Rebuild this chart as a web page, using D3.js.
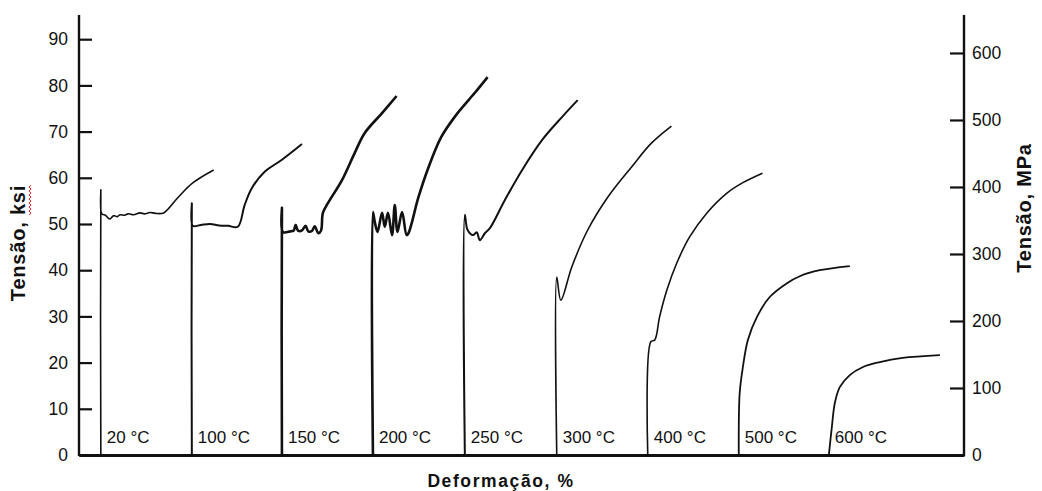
<!DOCTYPE html>
<html>
<head>
<meta charset="utf-8">
<script src="https://cdn.jsdelivr.net/npm/d3@7"></script>
<style>
  body { margin: 0; background: #fff; }
  svg { display: block; }
  text { font-family: "Liberation Sans", Arial, sans-serif; fill: #111; }
</style>
</head>
<body>
<div id="chart"></div>
<script>
// temperatures of each test and where each curve starts on the strain axis
const temps = ["20 °C", "100 °C", "150 °C", "200 °C", "250 °C", "300 °C", "400 °C", "500 °C", "600 °C"];
const offsets = [2.4, 12.4, 22.3, 32.3, 42.4, 52.5, 62.5, 72.5, 82.4];

// left / right tick labels
const ksiTicks = [0, 10, 20, 30, 40, 50, 60, 70, 80, 90];
const mpaTicks = [0, 100, 200, 300, 400, 500, 600];

// curves: [strain from start, stress ksi]
const c20 = [[0,0],[0,57.4],[0.1,52.2],[0.5,51.9],[0.8,51.3],[1.0,51.1],[1.4,51.8],[1.8,51.6],[2.1,52.0],[2.6,51.9],[3.0,52.2],[3.6,52.0],[4.3,52.4],[4.8,52.2],[5.4,52.5],[6.0,52.3],[6.9,52.4],[8.5,55.8],[10.1,58.9],[12.4,61.7]];
const c100 = [[0,0],[0,54.5],[0.1,49.6],[1.0,49.8],[2.0,50.0],[3.0,49.7],[4.0,49.6],[5.05,49.4],[5.8,54.1],[6.6,57.8],[8.0,61.3],[9.9,63.9],[12.1,67.3]];
const c150 = [[0,0],[0,53.5],[0.1,48.3],[0.9,48.4],[1.3,48.6],[1.5,49.8],[1.8,48.5],[2.2,48.6],[2.6,49.6],[2.9,48.4],[3.3,48.5],[3.6,49.5],[4.0,48.0],[4.3,48.6],[4.5,52.4],[5.05,54.5],[6.6,59.5],[8.0,65.4],[9.1,69.7],[11.0,74.0],[12.6,77.7]];
const c200 = [[0,0],[0,52.6],[0.2,50.5],[0.5,48.3],[1.0,52.4],[1.3,49.4],[1.65,52.4],[2.1,47.6],[2.4,54.1],[2.7,48.3],[3.2,52.6],[3.7,47.6],[3.9,48.0],[5.0,55.8],[6.0,61.7],[7.5,68.8],[9.3,74.0],[11.2,78.4],[12.6,81.8]];
const c250 = [[0,0],[0,52.0],[0.3,48.7],[0.9,47.6],[1.3,48.2],[1.65,46.5],[2.2,48.0],[2.75,49.1],[4.4,55.2],[6.3,61.7],[8.5,68.2],[10.7,73.2],[12.4,76.8]];
const c300 = [[0,0],[0,38.5],[0.45,33.5],[1.65,40.7],[3.4,48.7],[5.6,55.8],[8.2,62.3],[10.4,67.5],[12.6,71.2]];
const c400 = [[0,0],[0.33,24.5],[0.77,24.9],[1.3,29.9],[2.1,35.7],[3.2,41.6],[4.6,47.2],[6.5,52.4],[8.7,56.7],[10.4,58.9],[12.6,61.0]];
const c500 = [[0,0],[0.1,13.4],[0.45,19.0],[1.0,24.9],[2.0,29.9],[3.4,34.2],[5.3,37.2],[6.7,38.7],[8.9,40.0],[12.2,40.9]];
const c600 = [[0,0],[0.33,6.1],[0.66,11.3],[1.2,14.7],[2.3,17.3],[3.7,19.0],[5.6,20.1],[8.1,21.0],[12.2,21.6]];

const curves = [c20, c100, c150, c200, c250, c300, c400, c500, c600];
const widths = [1.6, 2, 2.6, 2.6, 2, 1.6, 1.6, 1.8, 1.8];

const W = 1042, H = 491;
const svg = d3.select("#chart").append("svg")
  .attr("width", W).attr("height", H);

// scales
const x = d3.scaleLinear().domain([0, 97.25]).range([79, 964]);
const y = d3.scaleLinear().domain([0, 90]).range([455, 39.2]);
const yMPa = d3.scaleLinear().domain([0, 90 * 6.895]).range([455, 39.2]);

// left axis
const left = svg.append("g").attr("transform", "translate(79,0)")
  .call(d3.axisLeft(y).tickValues(ksiTicks).tickSizeInner(-13).tickSizeOuter(0).tickPadding(11));
left.select(".domain").remove();
left.append("line").attr("x1", 0).attr("x2", 0).attr("y1", 15).attr("y2", 456)
  .attr("stroke", "#111").attr("stroke-width", 2.4);

// right axis
const right = svg.append("g").attr("transform", "translate(964,0)")
  .call(d3.axisRight(yMPa).tickValues(mpaTicks).tickSizeInner(-14).tickSizeOuter(0).tickPadding(8));
right.select(".domain").remove();
right.append("line").attr("x1", 0).attr("x2", 0).attr("y1", 15).attr("y2", 456)
  .attr("stroke", "#111").attr("stroke-width", 2.4);

[left, right].forEach(g => {
  g.selectAll(".tick line").attr("stroke", "#111").attr("stroke-width", 2.2);
  g.selectAll(".tick text").attr("font-size", 17.5).attr("fill", "#111")
    .attr("font-family", "'Liberation Sans', Arial, sans-serif");
});

// bottom axis (no ticks)
const bottom = svg.append("g").attr("transform", "translate(0,455)")
  .call(d3.axisBottom(x).ticks(0).tickSizeOuter(0));
bottom.select(".domain").attr("stroke", "#111").attr("stroke-width", 3);

// curves
const line = d3.line()
  .curve(d3.curveCatmullRom.alpha(0.5));

curves.forEach((c, i) => {
  svg.append("path")
    .datum(c)
    .attr("fill", "none")
    .attr("stroke", "#111")
    .attr("stroke-width", widths[i])
    .attr("stroke-linejoin", "round")
    .attr("d", line.x(d => x(offsets[i] + d[0])).y(d => y(d[1])));
});

// temperature labels
svg.append("g").selectAll("text")
  .data(temps)
  .join("text")
    .attr("x", (d, i) => x(offsets[i]) + 6)
    .attr("y", 443)
    .attr("font-size", 17)
    .text(d => d);

// axis titles
const lt = svg.append("g").attr("transform", "translate(25,243) rotate(-90)");
const ltText = lt.append("text")
  .attr("text-anchor", "middle")
  .attr("font-size", 20).attr("font-weight", "bold").attr("letter-spacing", 0.8)
  .text("Tensão, ksi");
// red wavy spell-check underline under "ksi"
{
  const node = ltText.node();
  const total = node.getComputedTextLength();
  const a = node.getSubStringLength(0, 8);
  const b = node.getSubStringLength(8, 3);
  const x0 = -total / 2 + a, x1 = x0 + b;
  const pts = [];
  for (let k = 0, px = x0; px <= x1; k++, px += 2) pts.push([px, 4 + (k % 2 ? 2 : 0)]);
  lt.append("path").attr("d", d3.line()(pts))
    .attr("fill", "none").attr("stroke", "#e02020").attr("stroke-width", 1);
}

svg.append("text")
  .attr("transform", "translate(1031,208) rotate(-90)")
  .attr("text-anchor", "middle")
  .attr("font-size", 20).attr("font-weight", "bold").attr("letter-spacing", 0.8)
  .text("Tensão, MPa");

svg.append("text")
  .attr("x", 501).attr("y", 487)
  .attr("text-anchor", "middle")
  .attr("font-size", 17.5).attr("font-weight", "bold").attr("letter-spacing", 1.6)
  .text("Deformação, %");
</script>
</body>
</html>
